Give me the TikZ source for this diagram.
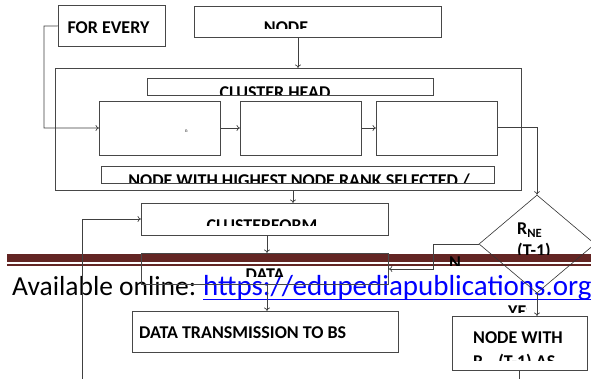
\documentclass[tikz,border=0pt]{standalone}
\usepackage{fontspec}
\setmainfont{Carlito}
\usetikzlibrary{shapes.geometric,arrows.meta}
\definecolor{maroon}{HTML}{632523}
\definecolor{linkblue}{HTML}{0000FF}
\begin{document}
\begin{tikzpicture}[x=1pt,y=-1pt,
  box/.style={draw=black!72, line width=0.8pt, inner sep=0pt, anchor=north west},
  conn/.style={draw=black!75, line width=0.7pt},
  arr/.style={conn, -{To[length=3.5pt,width=6pt]}},
  lbl/.style={font=\fontsize{18}{20}\selectfont\bfseries, inner sep=0pt, anchor=base},
  lblw/.style={lbl, anchor=base west},
  foot/.style={font=\fontsize{27.5}{30}\selectfont, inner sep=0pt, anchor=base west},
]
\useasboundingbox (0,0) rectangle (591,379);
\fill[white] (0,0) rectangle (591,379);

% footer overlay
\fill[maroon] (7,254) rectangle (591,262);
\fill[maroon] (7,264) rectangle (591,266);
\node[foot] (avail) at (12,295) {Available online:};
\node[foot, font=\fontsize{29}{31}\selectfont, text=linkblue] (link) at (203,295) {https://edupediapublications.org};
\draw[linkblue, line width=1.4pt] ([yshift=-4.5pt]link.base west) -- ([yshift=-4.5pt]link.base east);

% boxes
\node[box, minimum width=107pt, minimum height=41pt] (forevery) at (58,5) {};
\node[box, minimum width=247pt, minimum height=31pt] (node) at (194,6) {};
\node[box, minimum width=466pt, minimum height=122pt] (outer) at (55,68) {};
\node[box, minimum width=286pt, minimum height=17pt] (chead) at (147,78) {};
\node[box, minimum width=121pt, minimum height=54pt] (b1) at (99,101) {};
\node[box, minimum width=121pt, minimum height=54pt] (b2) at (240,101) {};
\node[box, minimum width=121pt, minimum height=54pt] (b3) at (376,101) {};
\node[box, minimum width=393pt, minimum height=17pt] (rank) at (101,166) {};
\node[box, minimum width=247pt, minimum height=32pt] (cform) at (141,203) {};
\node[box, minimum width=247pt, minimum height=31pt] (data) at (141,253) {};
\node[box, minimum width=266pt, minimum height=41pt] (dtbs) at (132,311) {};
\node[draw=black!80, line width=0.6pt, shape=diamond, inner sep=0pt,
      minimum width=116pt, minimum height=98pt] (dia) at (537,244) {};
\node[box, minimum width=135pt, minimum height=54pt] (nwith) at (452,316) {};
\coordinate (bottomL) at (82,379);
\coordinate (bottomR) at (519,379);

% connectors
\draw[arr] (node.south -| 298,0) -- (outer.north -| 298,0);
\draw[arr] (forevery.west) -- (44,26) -- (44,128) -- (b1.west |- 0,128);
\draw[arr] (b1.east |- 0,128) -- (b2.west |- 0,128);
\draw[arr] (b2.east |- 0,128) -- (b3.west |- 0,128);
\draw[arr] (b3.east |- 0,127) -- (537,127) -- (dia.north);
\draw[arr] (outer.south -| 293,0) -- (cform.north -| 293,0);
\draw[arr] (cform.south -| 267,0) -- (data.north -| 267,0);
\draw[arr] (data.south -| 267,0) -- (dtbs.north -| 267,0);
\draw[arr] (bottomL) -- (82,219) -- (cform.west |- 0,219);
\draw[arr] (dia.west) -- (433,244) -- (433,269) -- (data.east |- 0,269);
\draw[arr] (dia.south) -- (nwith.north -| dia.south);
\draw[conn] (nwith.south -| bottomR) -- (bottomR);

% labels
\node[lbl] (tfor) at (108.5,33.3) {FOR EVERY};
\begin{scope}\clip (194,6) rectangle (441,28.5);
  \node[lbl] (tnode) at (286,33.6) {NODE};\end{scope}
\begin{scope}\clip (147,78) rectangle (433,95);
  \node[lbl] (tchead) at (275,98.6) {CLUSTER HEAD};\end{scope}
\node[inner sep=0pt, font=\fontsize{4}{4}\selectfont] (tiny) at (187,131) {E:};
\begin{scope}\clip (101,166) rectangle (494,183);
  \node[lbl] (trank) at (299,186.6) {NODE WITH HIGHEST NODE RANK SELECTED /};\end{scope}
\begin{scope}\clip (141,203) rectangle (388,226);
  \node[lbl] (tcform) at (262,231.6) {CLUSTERFORM};\end{scope}
\begin{scope}\clip (141,253) rectangle (388,276);
  \node[lbl] (tdata) at (265,280.6) {DATA};\end{scope}
\node[lblw] (tdtbs) at (139,338.6) {DATA TRANSMISSION TO BS};
\node[lblw] (trne) at (517,234.6) {R\textsubscript{NE}};
\begin{scope}\clip (500,240) rectangle (570,254);
  \node[lblw] (tt1) at (517,256.6) {(T-1)};\end{scope}
\begin{scope}\clip (440,250) rectangle (470,265.5);
  \node[lblw] (tn) at (449,268.6) {N};\end{scope}
\begin{scope}\clip (500,300) rectangle (526,312);
  \node[lblw] (tyes) at (508,317.6) {YES};\end{scope}
\node[lbl] (tnw) at (518,343.6) {NODE WITH};
\begin{scope}\clip (452,316) rectangle (587,360);
  \node[lblw] (tnw2) at (473,367.6) {R\textsubscript{NE}(T-1) AS};\end{scope}
\end{tikzpicture}
\end{document}
